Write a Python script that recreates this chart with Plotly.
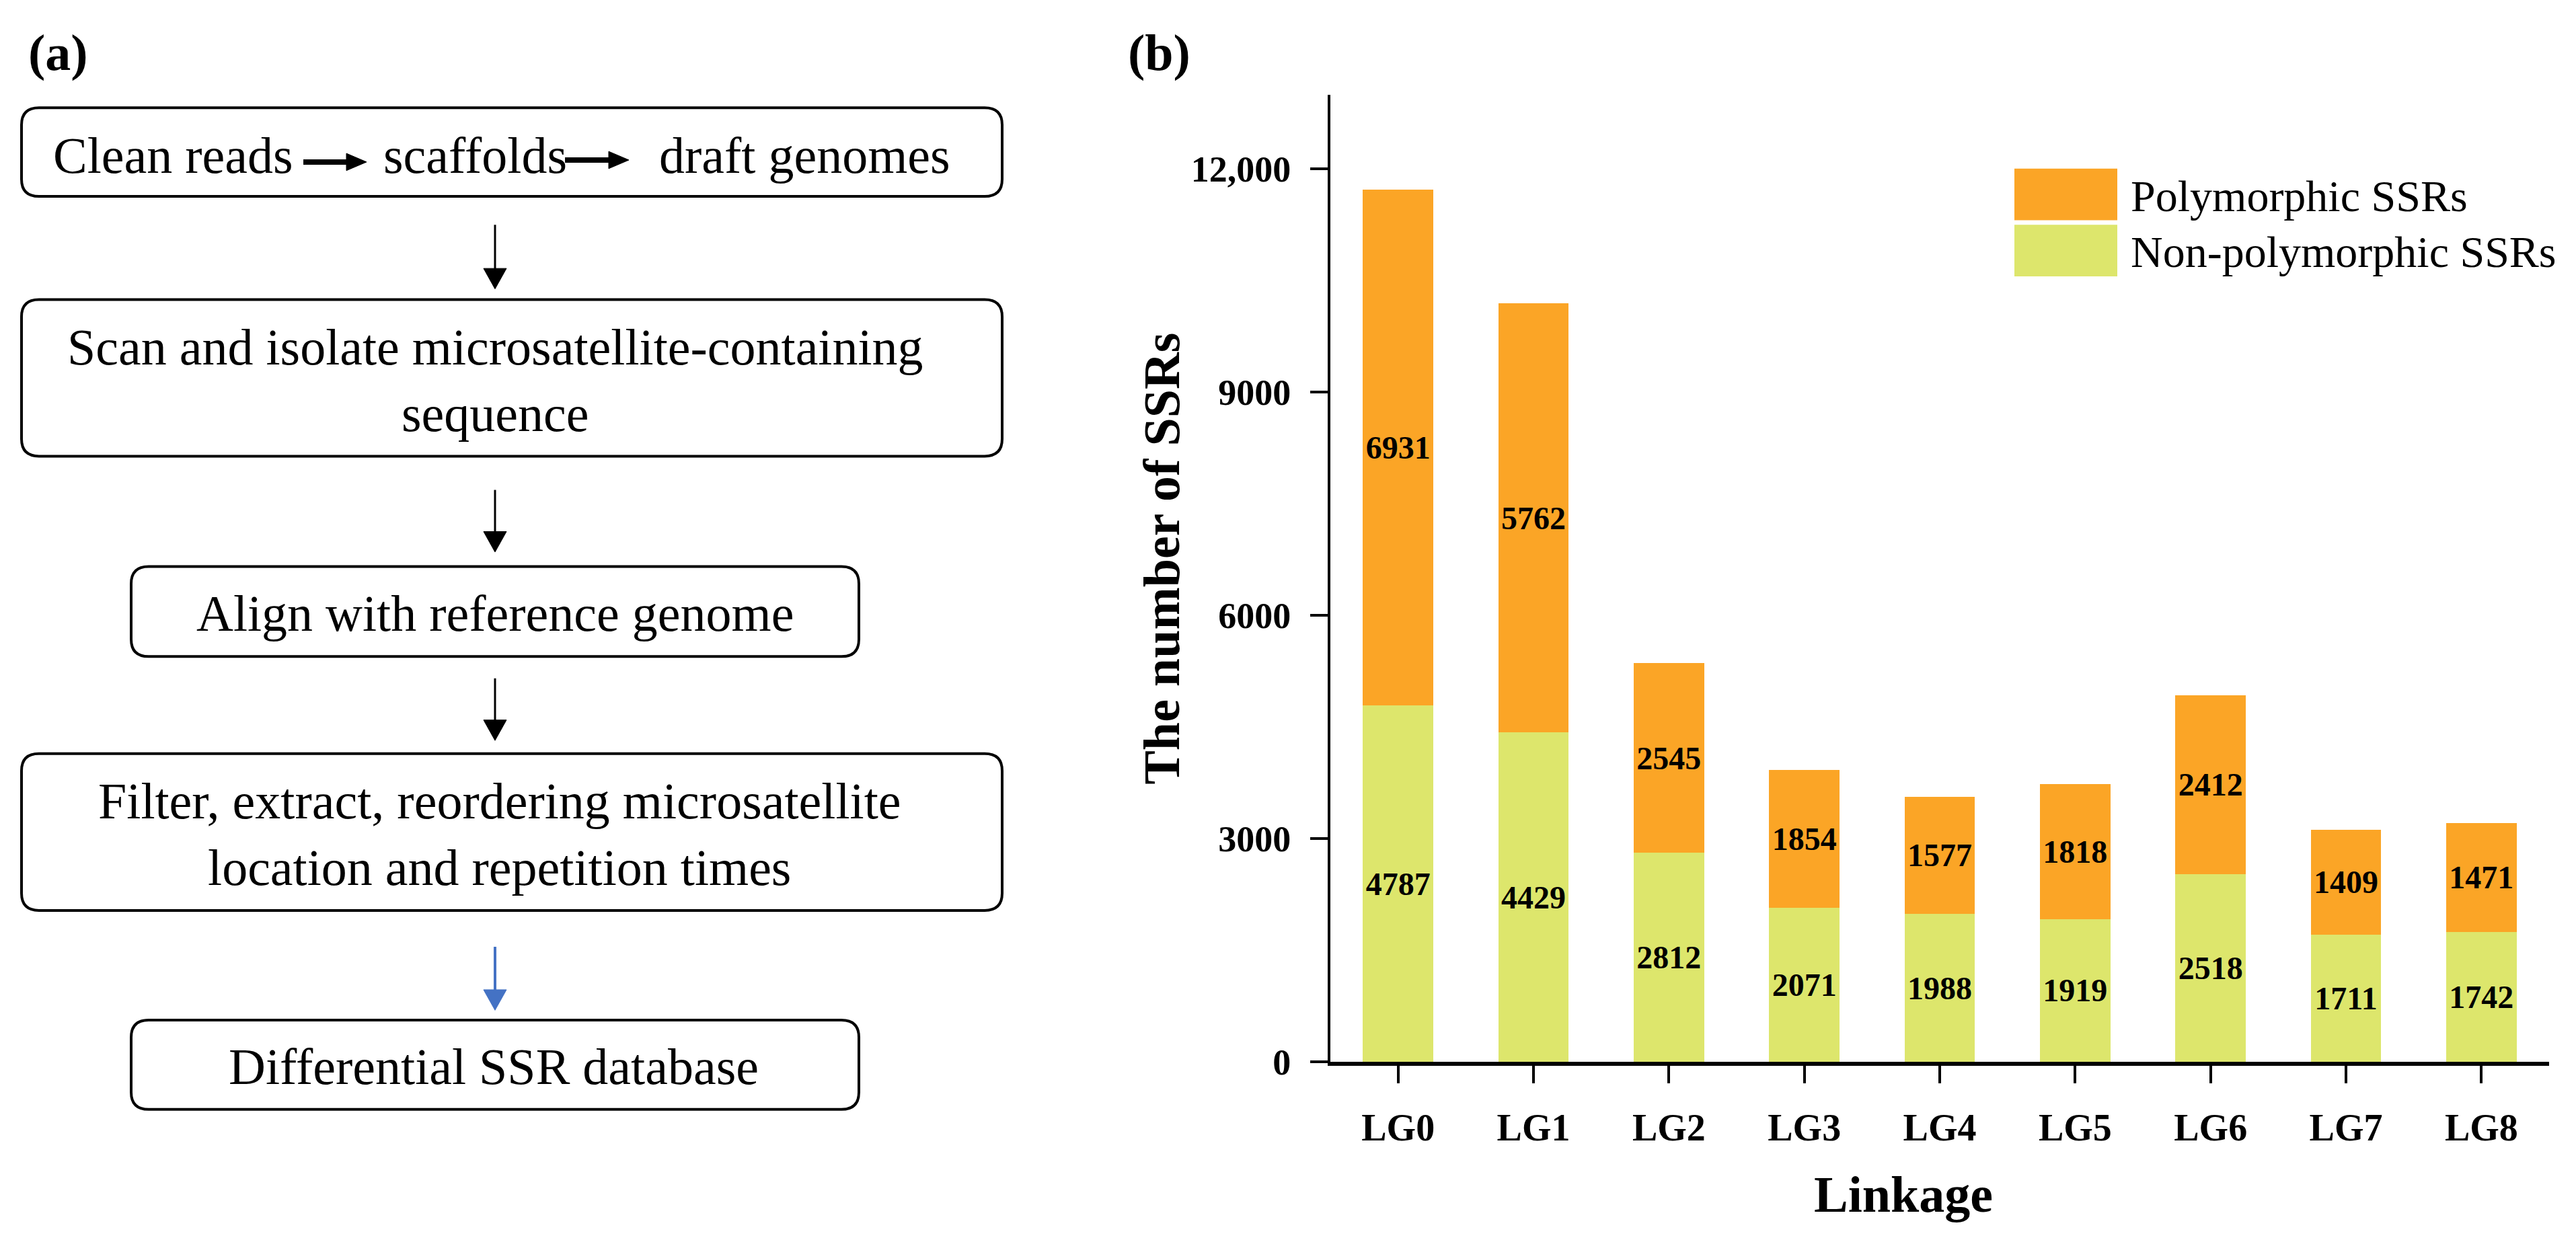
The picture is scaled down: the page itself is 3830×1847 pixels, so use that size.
import plotly.graph_objects as go

# ---------------- data ----------------
categories = ["LG0", "LG1", "LG2", "LG3", "LG4", "LG5", "LG6", "LG7", "LG8"]
non_polymorphic = [4787, 4429, 2812, 2071, 1988, 1919, 2518, 1711, 1742]
polymorphic = [6931, 5762, 2545, 1854, 1577, 1818, 2412, 1409, 1471]
y_tick_vals = [0, 3000, 6000, 9000, 12000]
y_tick_text = ["0", "3000", "6000", "9000", "12,000"]
series_names = ["Polymorphic SSRs", "Non-polymorphic SSRs"]
flow_steps = [
    "Scan and isolate microsatellite-containing<br>sequence",
    "Align with reference genome",
    "Filter, extract, reordering microsatellite<br>location and repetition times",
    "Differential SSR database",
]
first_step_parts = ["Clean reads", "scaffolds", "draft genomes"]

# ---------------- styling ----------------
W, H = 3830, 1847
ORANGE = "#FBA526"
GREEN = "#DDE66C"
SERIF = "Liberation Serif, Times New Roman, serif"


def X(x):
    return x / W


def Y(y):
    return 1 - y / H


def rrect(x0, y0, x1, y1, r=26):
    rx, ry = r, r
    pts = [
        ("M", (x0 + rx, y0)), ("L", (x1 - rx, y0)),
        ("Q", (x1, y0), (x1, y0 + ry)), ("L", (x1, y1 - ry)),
        ("Q", (x1, y1), (x1 - rx, y1)), ("L", (x0 + rx, y1)),
        ("Q", (x0, y1), (x0, y1 - ry)), ("L", (x0, y0 + ry)),
        ("Q", (x0, y0), (x0 + rx, y0)),
    ]
    s = ""
    for p in pts:
        cmd = p[0]
        coords = " ".join(f"{X(a):.6f},{Y(b):.6f}" for a, b in p[1:])
        s += f"{cmd} {coords} "
    return s + "Z"


fig = go.Figure()

fig.add_trace(go.Bar(
    x=categories, y=non_polymorphic, name=series_names[1],
    marker=dict(color=GREEN, line=dict(width=0)),
    text=non_polymorphic, textposition="inside", insidetextanchor="middle",
    textangle=0,
    textfont=dict(family=SERIF, size=48, color="black", weight="bold"),
    width=0.52, showlegend=False,
))
fig.add_trace(go.Bar(
    x=categories, y=polymorphic, name=series_names[0],
    marker=dict(color=ORANGE, line=dict(width=0)),
    text=polymorphic, textposition="inside", insidetextanchor="middle",
    textangle=0,
    textfont=dict(family=SERIF, size=48, color="black", weight="bold"),
    width=0.52, showlegend=False,
))

shapes = []
annotations = []

# ---------------- flowchart (panel a) ----------------
boxes = [
    (32, 163, 1490, 297),
    (32, 453, 1490, 690),
    (195, 857, 1277, 993),
    (32, 1140, 1490, 1377),
    (195, 1543, 1277, 1678),
]
for (x0, y0, x1, y1) in boxes:
    shapes.append(dict(type="path", xref="paper", yref="paper",
                       path=rrect(x0, y0, x1, y1),
                       line=dict(color="black", width=4),
                       fillcolor="rgba(0,0,0,0)"))

# vertical arrows
ax = 736
varrows = [(340, 437, "black"), (741, 835, "black"), (1026, 1120, "black"),
           (1432, 1528, "#4472C4")]
for (ya, yb, col) in varrows:
    shapes.append(dict(type="line", xref="paper", yref="paper",
                       x0=X(ax), x1=X(ax), y0=Y(ya), y1=Y(yb - 25),
                       line=dict(color=col, width=4 if col != "black" else 3)))
    shapes.append(dict(type="path", xref="paper", yref="paper",
                       path=f"M {X(ax-17):.6f},{Y(yb-31):.6f} L {X(ax+17):.6f},{Y(yb-31):.6f} L {X(ax):.6f},{Y(yb):.6f} Z",
                       line=dict(color=col, width=1), fillcolor=col))

# horizontal arrows inside the first box
harrows = [(451, 545, 245), (840, 935, 242)]
for (xa, xb, yy) in harrows:
    shapes.append(dict(type="line", xref="paper", yref="paper",
                       x0=X(xa), x1=X(xb - 24), y0=Y(yy), y1=Y(yy),
                       line=dict(color="black", width=8)))
    shapes.append(dict(type="path", xref="paper", yref="paper",
                       path=f"M {X(xb-30):.6f},{Y(yy-13):.6f} L {X(xb-30):.6f},{Y(yy+13):.6f} L {X(xb):.6f},{Y(yy):.6f} Z",
                       line=dict(color="black", width=1), fillcolor="black"))

for txt, xl in zip(first_step_parts, [77, 568, 978]):
    annotations.append(dict(xref="paper", yref="paper", x=X(xl), y=Y(235),
                            xanchor="left", yanchor="middle", showarrow=False,
                            text=txt, font=dict(family=SERIF, size=76, color="black")))

step_centers = [(736, 575), (736, 928), (742, 1262), (734, 1613)]
for txt, (cx, cy) in zip(flow_steps, step_centers):
    annotations.append(dict(xref="paper", yref="paper", x=X(cx), y=Y(cy),
                            xanchor="center", yanchor="middle", showarrow=False,
                            text=txt, align="center",
                            font=dict(family=SERIF, size=76, color="black")))

# panel labels
annotations.append(dict(xref="paper", yref="paper", x=X(40), y=Y(80),
                        xanchor="left", yanchor="middle", showarrow=False,
                        text="(a)", font=dict(family=SERIF, size=76, color="black", weight="bold")))
annotations.append(dict(xref="paper", yref="paper", x=X(1675), y=Y(80),
                        xanchor="left", yanchor="middle", showarrow=False,
                        text="(b)", font=dict(family=SERIF, size=76, color="black", weight="bold")))

# axis titles
annotations.append(dict(xref="paper", yref="paper", x=X(1727), y=Y(845),
                        xanchor="center", yanchor="middle", showarrow=False,
                        textangle=-90, text="The number of SSRs",
                        font=dict(family=SERIF, size=76, color="black", weight="bold")))
annotations.append(dict(xref="paper", yref="paper", x=X(2830), y=Y(1806),
                        xanchor="center", yanchor="middle", showarrow=False,
                        text="Linkage",
                        font=dict(family=SERIF, size=76, color="black", weight="bold")))

# manual legend
leg = [(series_names[0], ORANGE, 255, 333), (series_names[1], GREEN, 340, 418)]
for name, col, y0, y1 in leg:
    shapes.append(dict(type="rect", xref="paper", yref="paper",
                       x0=X(2995), x1=X(3148), y0=Y(y0), y1=Y(y1),
                       line=dict(width=0), fillcolor=col))
    annotations.append(dict(xref="paper", yref="paper", x=X(3166), y=Y((y0 + y1) / 2 + 2),
                            xanchor="left", yanchor="middle", showarrow=False,
                            text=name, font=dict(family=SERIF, size=66, color="black")))

fig.update_layout(
    width=W, height=H,
    margin=dict(l=0, r=0, t=0, b=0),
    paper_bgcolor="white", plot_bgcolor="white",
    barmode="stack", bargap=0.48,
    showlegend=False,
    uniformtext=dict(mode="show", minsize=46),
    shapes=shapes, annotations=annotations,
    xaxis=dict(domain=[X(1978), X(3790)], range=[-0.5, 8.5],
               showline=True, linecolor="black", linewidth=6,
               ticks="outside", ticklen=26, tickwidth=4, tickcolor="black",
               ticklabelstandoff=18,
               tickfont=dict(family=SERIF, size=56, color="black", weight="bold"),
               showgrid=False, zeroline=False, fixedrange=True),
    yaxis=dict(domain=[Y(1606), Y(143)], range=[0, 13000],
               tickvals=y_tick_vals, ticktext=y_tick_text,
               showline=True, linecolor="black", linewidth=4,
               ticks="outside", ticklen=26, tickwidth=4, tickcolor="black",
               ticklabelstandoff=18,
               tickfont=dict(family=SERIF, size=54, color="black", weight="bold"),
               showgrid=False, zeroline=False, fixedrange=True),
)

fig.write_html("out.html", config={"displayModeBar": False},
               post_script="document.body.style.margin='0';document.body.style.overflow='hidden';")
